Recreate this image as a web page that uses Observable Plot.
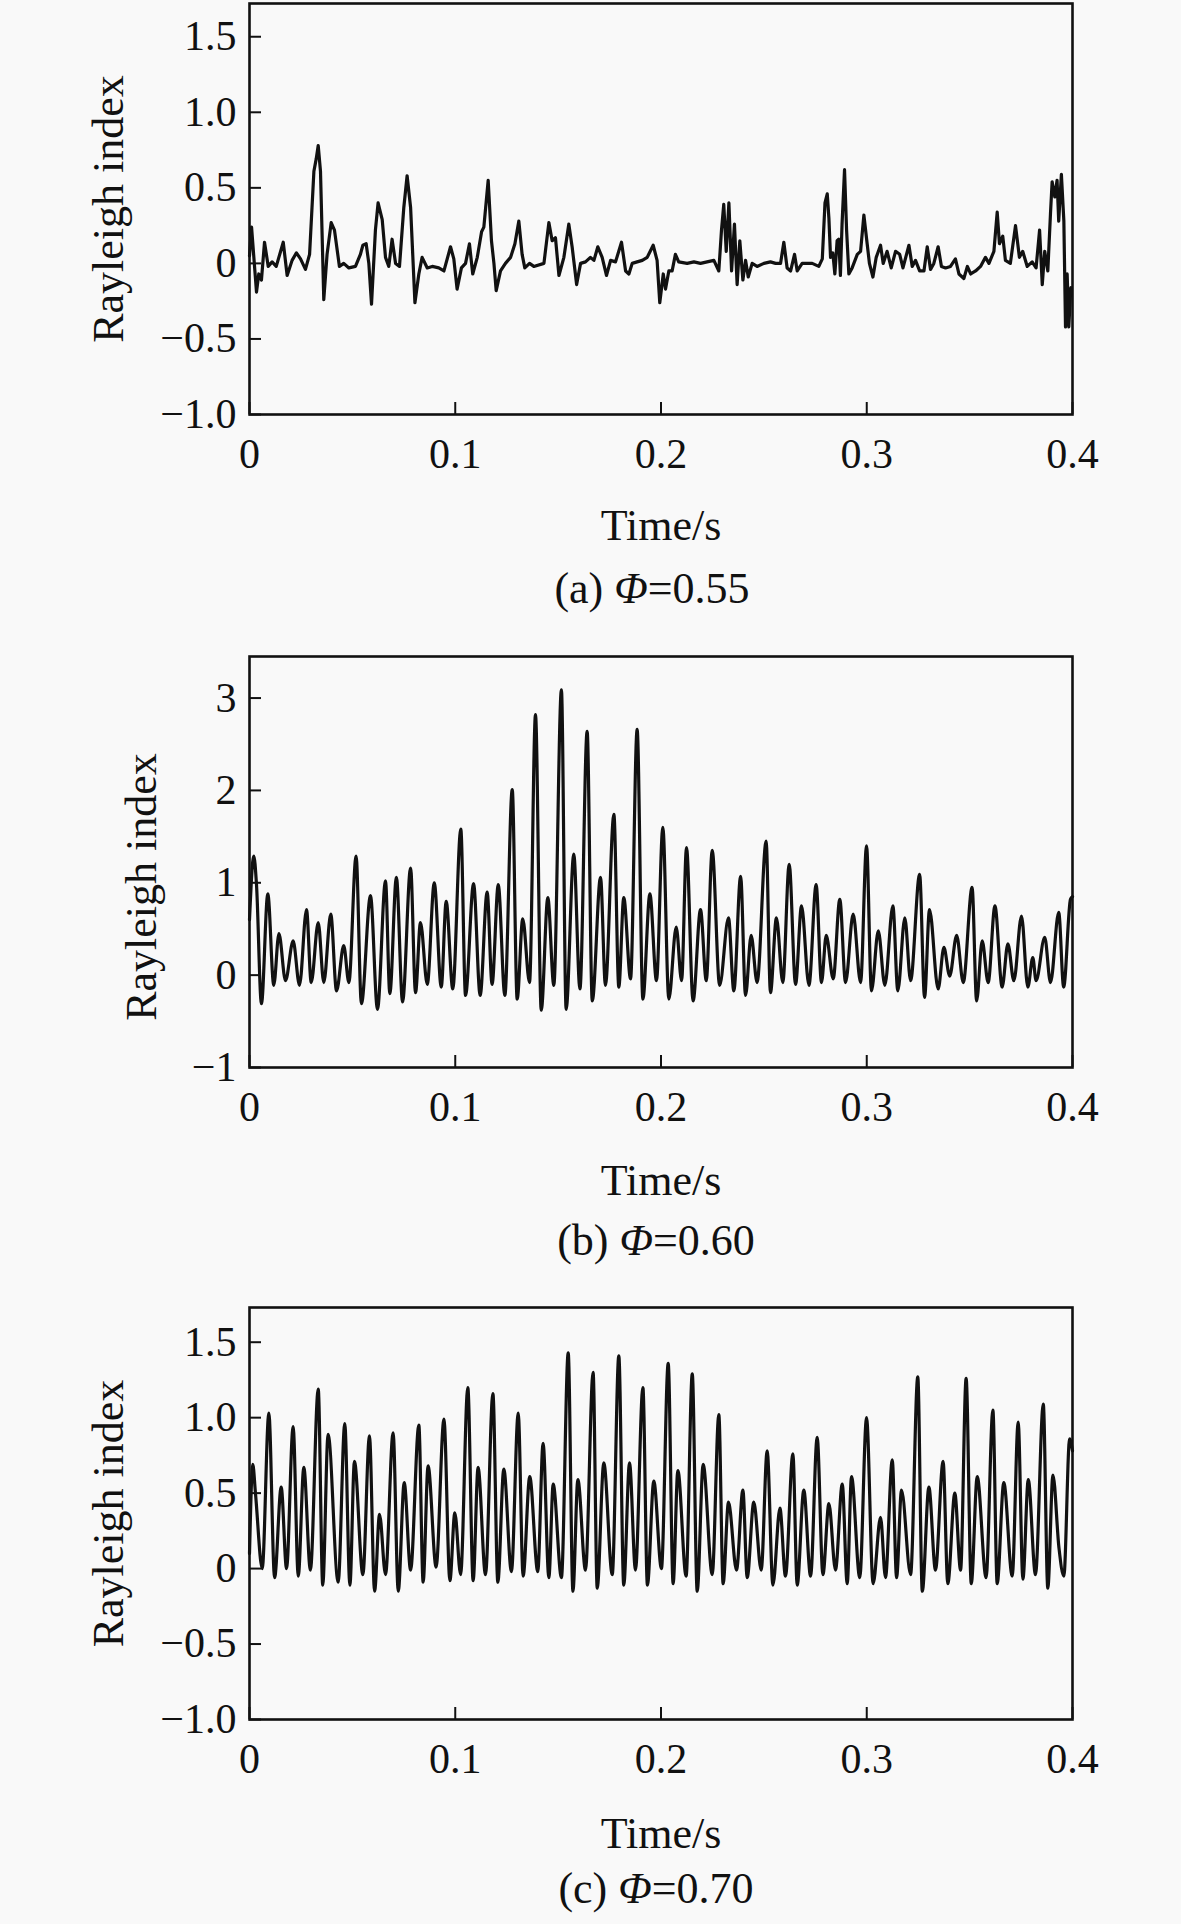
<!DOCTYPE html>
<html><head><meta charset="utf-8">
<script src="https://cdn.jsdelivr.net/npm/d3@7"></script>
<script src="https://cdn.jsdelivr.net/npm/@observablehq/plot@0.6"></script>
<style>
body{margin:0;background:#f9f9f9;}
#root{position:relative;width:1181px;height:1924px;font-family:"Liberation Serif","Times New Roman",serif;}
.panel{position:absolute;left:0;}
.cap{position:absolute;left:62px;width:1181px;text-align:center;font-size:44px;line-height:1;color:#111;white-space:nowrap;}
</style></head><body><div id="root"></div>
<script>
// ---- x ticks (time, s)
const xTicks = [0, 0.1, 0.2, 0.3, 0.4];
const yTicksA = [-1, -0.5, 0, 0.5, 1, 1.5];
const yTicksB = [-1, 0, 1, 2, 3];
const yTicksC = [-1, -0.5, 0, 0.5, 1, 1.5];
const captions = ["(a) ", "(b) ", "(c) "];
const phiValues = ["0.55", "0.60", "0.70"];

// ---- (a) Φ=0.55
const timeA = [
0, 0.0010, 0.0034, 0.0045, 0.0058, 0.0073, 0.0091, 0.0110, 0.0130, 0.0164,
0.0183, 0.0207, 0.0228, 0.0248, 0.0272, 0.0292, 0.0313, 0.0324, 0.0334, 0.0345,
0.0361, 0.0377, 0.0397, 0.0413, 0.0437, 0.0458, 0.0483, 0.0515, 0.0539, 0.0551,
0.0567, 0.0580, 0.0593, 0.0612, 0.0625, 0.0645, 0.0661, 0.0677, 0.0693, 0.0710,
0.0729, 0.0750, 0.0766, 0.0783, 0.0804, 0.0823, 0.0839, 0.0864, 0.0888, 0.0920,
0.0945, 0.0977, 0.0993, 0.1009, 0.1030, 0.1050, 0.1069, 0.1085, 0.1107, 0.1128,
0.1139, 0.1160, 0.1176, 0.1188, 0.1199, 0.1220, 0.1244, 0.1269, 0.1290, 0.1309,
0.1325, 0.1338, 0.1361,
0.1382, 0.1431, 0.1455, 0.1471, 0.1487, 0.1504, 0.1528, 0.1552, 0.1568, 0.1590,
0.1609, 0.1633, 0.1657, 0.1674, 0.1693, 0.1714, 0.1735, 0.1755, 0.1779, 0.1808,
0.1828, 0.1844, 0.1860, 0.1884, 0.1909, 0.1933, 0.1962, 0.1981, 0.1994, 0.2011,
0.2022, 0.2038, 0.2054, 0.2070, 0.2086, 0.2127, 0.2160, 0.2192, 0.2224, 0.2257,
0.2281, 0.2294, 0.2305, 0.2317, 0.2330, 0.2343, 0.2357, 0.2370, 0.2383, 0.2398,
0.2411, 0.2424, 0.2443, 0.2467, 0.2500, 0.2532, 0.2557, 0.2581, 0.2597, 0.2613,
0.2630, 0.2649, 0.2662, 0.2686,
0.2702, 0.2735, 0.2767, 0.2784, 0.2797, 0.2808, 0.2816, 0.2824, 0.2835, 0.2845,
0.2856, 0.2864, 0.2872, 0.2880, 0.2892, 0.2902, 0.2913, 0.2929, 0.2954, 0.2970,
0.2986, 0.3002, 0.3013, 0.3030, 0.3046, 0.3067, 0.3080, 0.3099, 0.3119, 0.3140,
0.3160, 0.3176, 0.3205, 0.3221, 0.3237, 0.3257, 0.3278, 0.3294, 0.3310, 0.3326,
0.3347, 0.3363, 0.3383, 0.3407, 0.3431, 0.3448, 0.3472, 0.3489, 0.3505, 0.3529,
0.3553, 0.3577, 0.3594, 0.3618, 0.3634, 0.3645, 0.3661, 0.3674, 0.3698, 0.3723,
0.3742, 0.3758, 0.3780, 0.3804, 0.3823, 0.3840, 0.3853, 0.3865, 0.3880, 0.3893,
0.3901, 0.3914, 0.3925, 0.3933, 0.3946, 0.3958, 0.3966, 0.3974, 0.3982, 0.3992
];
const valueA = [
0.05, 0.24, -0.19, -0.07, -0.11, 0.14, -0.02, 0.01, -0.02, 0.14,
-0.08, 0.02, 0.07, 0.03, -0.04, 0.06, 0.61, 0.69, 0.78, 0.61,
-0.24, 0.06, 0.27, 0.22, -0.02, 0.00, -0.03, -0.02, 0.06, 0.12,
0.13, 0.00, -0.27, 0.22, 0.40, 0.29, 0.04, -0.02, 0.16, 0.00,
-0.02, 0.37, 0.58, 0.37, -0.26, -0.07, 0.04, -0.03, -0.02, -0.03,
-0.05, 0.11, 0.03, -0.17, -0.03, 0.00, 0.13, -0.07, 0.04, 0.21,
0.24, 0.55, 0.15, 0.00, -0.18, -0.05, 0.00, 0.04, 0.13, 0.28,
0.06, -0.03, 0.00,
-0.02, 0.00, 0.27, 0.15, 0.17, -0.08, 0.04, 0.26, 0.11, -0.14,
0.00, 0.01, 0.04, 0.02, 0.11, 0.04, -0.08, 0.02, 0.01, 0.14,
-0.05, -0.07, 0.00, 0.01, 0.02, 0.04, 0.12, 0.02, -0.26, -0.07,
-0.17, -0.05, -0.05, 0.06, 0.01, 0.00, 0.01, 0.00, 0.01, 0.02,
-0.05, 0.22, 0.39, 0.08, 0.40, -0.05, 0.26, -0.14, 0.15, -0.11,
0.02, -0.09, 0.00, -0.02, 0.00, 0.01, 0.00, 0.00, 0.14, -0.03,
-0.05, 0.06, -0.05, 0.00,
0.00, 0.00, -0.02, 0.03, 0.40, 0.46, 0.30, 0.04, 0.07, -0.07,
0.15, 0.16, -0.08, 0.26, 0.62, 0.22, -0.07, -0.03, 0.06, 0.08,
0.32, 0.13, 0.00, -0.09, 0.04, 0.12, 0.00, 0.08, -0.03, 0.08,
0.06, -0.03, 0.12, -0.02, 0.02, -0.05, -0.05, 0.11, -0.04, 0.00,
0.11, -0.02, -0.03, -0.02, 0.03, -0.07, -0.10, -0.02, -0.07, -0.05,
-0.02, 0.04, 0.00, 0.08, 0.34, 0.13, 0.18, 0.02, 0.00, 0.25,
0.04, 0.08, -0.02, 0.01, -0.03, 0.22, -0.14, 0.08, -0.05, 0.33,
0.54, 0.44, 0.55, 0.28, 0.59, 0.28, -0.42, -0.07, -0.42, -0.16
];

// ---- (b) Φ=0.60
const timeB = [
0, 0.0021, 0.0034, 0.0058, 0.0089, 0.0118, 0.0143, 0.0175, 0.0212, 0.0243,
0.0277, 0.0300, 0.0334, 0.0361, 0.0395, 0.0423, 0.0458, 0.0483, 0.0518, 0.0544,
0.0588, 0.0622, 0.0661, 0.0682, 0.0714, 0.0744, 0.0783, 0.0807, 0.0831, 0.0864,
0.0898, 0.0932, 0.0956, 0.0988, 0.1027, 0.1050, 0.1089, 0.1121, 0.1155, 0.1179,
0.1209, 0.1241, 0.1277, 0.1301, 0.1328, 0.1361, 0.1390, 0.1418, 0.1450, 0.1479,
0.1516, 0.1539, 0.1576, 0.1606, 0.1641, 0.1666, 0.1706, 0.1730, 0.1771, 0.1795,
0.1819, 0.1852, 0.1884, 0.1912, 0.1946, 0.1978, 0.2009, 0.2038, 0.2074, 0.2100,
0.2124, 0.2156, 0.2192, 0.2220, 0.2249, 0.2285, 0.2328, 0.2354, 0.2387, 0.2411,
0.2438, 0.2467, 0.2511, 0.2532, 0.2561, 0.2592, 0.2623, 0.2654, 0.2683, 0.2719,
0.2754, 0.2780, 0.2803, 0.2837, 0.2869, 0.2897, 0.2934, 0.2970, 0.2999, 0.3023,
0.3056, 0.3088, 0.3127, 0.3151, 0.3185, 0.3213, 0.3257, 0.3281, 0.3305, 0.3347,
0.3375, 0.3403, 0.3437, 0.3469, 0.3512, 0.3534, 0.3561, 0.3590, 0.3623, 0.3658,
0.3686, 0.3715, 0.3752, 0.3783, 0.3807, 0.3823, 0.3865, 0.3893, 0.3933, 0.3957,
0.3990, 0.4000
];
const valueB = [
0.6, 1.29, 0.98, -0.31, 0.88, -0.11, 0.45, -0.06, 0.37, -0.11,
0.71, -0.08, 0.57, -0.08, 0.66, -0.17, 0.32, -0.08, 1.29, -0.31,
0.86, -0.37, 1.02, -0.20, 1.06, -0.29, 1.16, -0.19, 0.57, -0.10,
1.00, -0.13, 0.80, -0.15, 1.58, -0.22, 0.99, -0.22, 0.90, -0.10,
0.98, -0.22, 2.01, -0.26, 0.61, -0.08, 2.82, -0.38, 0.84, -0.11,
3.09, -0.37, 1.31, -0.15, 2.64, -0.28, 1.06, -0.11, 1.74, -0.13,
0.84, -0.04, 2.66, -0.26, 0.88, -0.06, 1.60, -0.26, 0.52, -0.06,
1.38, -0.28, 0.71, -0.06, 1.35, -0.11, 0.62, -0.17, 1.07, -0.22,
0.43, -0.08, 1.45, -0.19, 0.62, -0.08, 1.20, -0.10, 0.75, -0.11,
0.98, -0.08, 0.43, -0.04, 0.82, -0.08, 0.66, -0.08, 1.40, -0.17,
0.48, -0.11, 0.75, -0.17, 0.62, -0.06, 1.09, -0.24, 0.71, -0.15,
0.30, -0.01, 0.43, -0.08, 0.95, -0.28, 0.37, -0.08, 0.75, -0.13,
0.34, -0.06, 0.64, -0.13, 0.19, -0.06, 0.41, -0.08, 0.68, -0.13,
0.82, 0.85
];

// ---- (c) Φ=0.70
const timeC = [
0, 0.0016, 0.0029, 0.0062, 0.0094, 0.0122, 0.0154, 0.0180, 0.0212, 0.0237,
0.0264, 0.0296, 0.0334, 0.0356, 0.0382, 0.0431, 0.0463, 0.0488, 0.0510, 0.0551,
0.0583, 0.0608, 0.0632, 0.0661, 0.0698, 0.0723, 0.0752, 0.0783, 0.0823, 0.0844,
0.0868, 0.0907, 0.0945, 0.0974, 0.0998, 0.1026, 0.1061, 0.1087, 0.1111, 0.1147,
0.1183, 0.1207, 0.1236, 0.1273, 0.1306, 0.1330, 0.1362, 0.1401, 0.1427, 0.1455,
0.1476, 0.1516, 0.1549, 0.1572, 0.1596, 0.1633, 0.1670, 0.1690, 0.1722, 0.1763,
0.1795, 0.1819, 0.1847, 0.1876, 0.1912, 0.1934, 0.1965, 0.2002, 0.2035, 0.2059,
0.2082, 0.2122, 0.2152, 0.2176, 0.2205, 0.2249, 0.2281, 0.2302, 0.2328, 0.2367,
0.2398, 0.2419, 0.2451, 0.2487, 0.2516, 0.2544, 0.2578, 0.2605, 0.2641, 0.2662,
0.2694, 0.2727, 0.2759, 0.2787, 0.2816, 0.2848, 0.2881, 0.2905, 0.2926, 0.2966,
0.2999, 0.3031, 0.3067, 0.3091, 0.3124, 0.3145, 0.3169, 0.3213, 0.3248, 0.3270,
0.3302, 0.3334, 0.3371, 0.3394, 0.3428, 0.3456, 0.3483, 0.3508, 0.3537, 0.3580,
0.3613, 0.3634, 0.3666, 0.3707, 0.3736, 0.3759, 0.3785, 0.3820, 0.3858, 0.3880,
0.3905, 0.3934, 0.3958, 0.3986, 0.4000
];
const valueC = [
0.10, 0.69, 0.50, 0.00, 1.03, -0.06, 0.54, 0.00, 0.94, -0.05,
0.67, -0.01, 1.19, -0.11, 0.89, -0.09, 0.96, -0.11, 0.71, -0.04,
0.88, -0.15, 0.36, -0.04, 0.90, -0.15, 0.57, -0.01, 0.95, -0.09,
0.68, 0.01, 0.99, -0.08, 0.37, -0.04, 1.20, -0.08, 0.67, -0.04,
1.16, -0.09, 0.66, -0.02, 1.03, -0.05, 0.61, -0.02, 0.83, -0.06,
0.56, -0.06, 1.43, -0.15, 0.59, -0.01, 1.30, -0.13, 0.70, -0.04,
1.41, -0.11, 0.70, -0.01, 1.20, -0.11, 0.58, 0.00, 1.36, -0.10,
0.65, -0.05, 1.29, -0.15, 0.69, -0.04, 1.02, -0.10, 0.44, -0.01,
0.52, -0.06, 0.44, -0.01, 0.78, -0.11, 0.40, -0.05, 0.76, -0.11,
0.52, -0.05, 0.87, -0.04, 0.43, -0.01, 0.56, -0.10, 0.61, -0.06,
1.00, -0.10, 0.34, -0.06, 0.72, -0.06, 0.52, -0.04, 1.27, -0.15,
0.54, -0.01, 0.71, -0.10, 0.50, -0.01, 1.26, -0.10, 0.61, -0.06,
1.05, -0.10, 0.57, -0.05, 0.97, -0.07, 0.59, -0.04, 1.09, -0.13,
0.62, 0.14, -0.05, 0.86, 0.78
];

const FONT = '"Liberation Serif","Times New Roman",serif';
const MINUS = "\u2212";
const fmtX = d => d === 0 ? "0" : d.toFixed(1);
const fmtDec = d => d === 0 ? "0" : (d < 0 ? MINUS : "") + Math.abs(d).toFixed(1);
const fmtInt = d => (d < 0 ? MINUS : "") + Math.abs(d);

function panel(cfg) {
  const data = cfg.values.map((v, i) => ({t: cfg.times[i], v}));
  const mb = 210;
  const chart = Plot.plot({
    width: 1181,
    height: cfg.marginTop + cfg.plotH + mb,
    marginLeft: 249, marginRight: 109, marginTop: cfg.marginTop, marginBottom: mb,
    style: {background: "transparent", fontFamily: FONT, fontSize: "42px", color: "#111", overflow: "visible"},
    x: {domain: [0, 0.4]},
    y: {domain: cfg.yDomain},
    marks: [
      Plot.axisX({ticks: xTicks, tickFormat: fmtX, tickSize: -12, tickPadding: 36, label: null, strokeWidth: 2, fontSize: 42}),
      Plot.axisY({ticks: cfg.yTicks, tickFormat: cfg.fmtY, tickSize: -12, tickPadding: 25, label: null, strokeWidth: 2, fontSize: 42}),
      Plot.frame({stroke: "#111", strokeWidth: 2.6}),
      Plot.line(data, {x: "t", y: "v", stroke: "#111", strokeWidth: 3.2, curve: cfg.curve, strokeLinejoin: "round"}),
      Plot.text(["Rayleigh index"], {text: d => d, frameAnchor: "left", textAnchor: "middle", lineAnchor: "middle", dx: cfg.yLabelDx, dy: cfg.yLabelDy, rotate: -90, fontSize: 44, fill: "#111"}),
      Plot.text(["Time/s"], {text: d => d, frameAnchor: "bottom", textAnchor: "middle", lineAnchor: "middle", dy: cfg.xLabelDy, fontSize: 44, fill: "#111"})
    ]
  });
  const div = document.createElement("div");
  div.className = "panel";
  div.style.top = cfg.top + "px";
  div.appendChild(chart);
  root.appendChild(div);
  const cap = document.createElement("div");
  cap.className = "cap";
  cap.style.left = (cfg.capX - 590.5) + "px";
  cap.style.top = (cfg.capY - 23) + "px";
  cap.innerHTML = captions[cfg.idx] + "<i>\u03A6</i>=" + phiValues[cfg.idx];
  root.appendChild(cap);
}

const root = document.getElementById("root");
panel({idx: 0, times: timeA, values: valueA, yDomain: [-1, 1.72], yTicks: yTicksA, fmtY: fmtDec,
  top: 0, marginTop: 3, plotH: 411, xLabelDy: 111, yLabelDx: -141, yLabelDy: 0, capX: 652, capY: 590, curve: "linear"});
panel({idx: 1, times: timeB, values: valueB, yDomain: [-1, 3.45], yTicks: yTicksB, fmtY: fmtInt,
  top: 650, marginTop: 6, plotH: 411, xLabelDy: 113, yLabelDx: -108, yLabelDy: 25, capX: 656, capY: 1242, curve: "monotone-x"});
panel({idx: 2, times: timeC, values: valueC, yDomain: [-1, 1.73], yTicks: yTicksC, fmtY: fmtDec,
  top: 1300, marginTop: 7, plotH: 412, xLabelDy: 114, yLabelDx: -141, yLabelDy: 0, capX: 656, capY: 1890, curve: "monotone-x"});
</script>
</body></html>
